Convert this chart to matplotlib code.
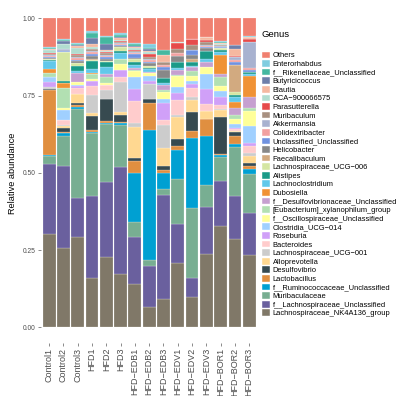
import numpy as np
import pandas as pd
import matplotlib
matplotlib.use('Agg')
import matplotlib.pyplot as plt
from matplotlib.patches import Patch

plt.rcParams['font.family'] = ['Liberation Sans', 'DejaVu Sans']

# --- data ---
samples = ['Control1', 'Control2', 'Control3', 'HFD1', 'HFD2', 'HFD3',
           'HFD\u2212EDB1', 'HFD\u2212EDB2', 'HFD\u2212EDB3',
           'HFD\u2212EDV1', 'HFD\u2212EDV2', 'HFD\u2212EDV3',
           'HFD\u2212BOR1', 'HFD\u2212BOR2', 'HFD\u2212BOR3']

# legend order (top of the stack first)
genera = ['Others', 'Enterorhabdus', 'f__Rikenellaceae_Unclassified', 'Butyricicoccus',
          'Blautia', 'GCA\u2212900066575', 'Parasutterella', 'Muribaculum', 'Akkermansia',
          'Colidextribacter', 'Unclassified_Unclassified', 'Helicobacter', 'Faecalibaculum',
          'Lachnospiraceae_UCG\u2212006', 'Alistipes', 'Lachnoclostridium', 'Dubosiella',
          'f__Desulfovibrionaceae_Unclassified', '[Eubacterium]_xylanophilum_group',
          'f__Oscillospiraceae_Unclassified', 'Clostridia_UCG\u2212014', 'Roseburia',
          'Bacteroides', 'Lachnospiraceae_UCG\u2212001', 'Alloprevotella', 'Desulfovibrio',
          'Lactobacillus', 'f__Ruminococcaceae_Unclassified', 'Muribaculaceae',
          'f__Lachnospiraceae_Unclassified', 'Lachnospiraceae_NK4A136_group']

colors = ['#F08070', '#80CDE0', '#45B8A0', '#6E7FAA', '#F5B8A0', '#B2DDD0', '#E64B4B',
          '#A89080', '#A8B2D0', '#F2A0A0', '#7092E0', '#888888', '#D2AA80', '#D5E6A2',
          '#1A9A88', '#62C8EA', '#F09235', '#C6A0D0', '#B2E0B2', '#FFFF99', '#A0D0FF',
          '#D0A0F8', '#FFCCCC', '#CCCCCC', '#FFD891', '#374A50', '#E08F40', '#00A0D2',
          '#78AE92', '#6A609E', '#807868']

others        = [0.094, 0.068, 0.080, 0.043, 0.058, 0.049, 0.081, 0.086, 0.102, 0.076, 0.065, 0.061, 0.076, 0.086, 0.057]
enterorhabdus = [0.003, 0.003, 0.004, 0.004, 0.004, 0.004, 0.004, 0.014, 0.000, 0.000, 0.000, 0.000, 0.003, 0.000, 0.003]
rikenellaceae = [0.003, 0.004, 0.004, 0.019, 0.022, 0.008, 0.004, 0.004, 0.016, 0.000, 0.000, 0.000, 0.002, 0.000, 0.000]
butyricicoccus = [0.003, 0.007, 0.004, 0.018, 0.019, 0.004, 0.004, 0.004, 0.000, 0.000, 0.000, 0.000, 0.002, 0.013, 0.000]
blautia       = [0.003, 0.000, 0.004, 0.011, 0.004, 0.005, 0.004, 0.004, 0.022, 0.000, 0.000, 0.010, 0.002, 0.022, 0.009]
gca           = [0.008, 0.018, 0.019, 0.004, 0.004, 0.004, 0.005, 0.008, 0.000, 0.005, 0.000, 0.000, 0.003, 0.000, 0.000]
parasutterella = [0.004, 0.000, 0.005, 0.003, 0.003, 0.003, 0.005, 0.011, 0.000, 0.019, 0.022, 0.005, 0.002, 0.005, 0.008]
muribaculum   = [0.003, 0.000, 0.005, 0.006, 0.005, 0.004, 0.003, 0.004, 0.010, 0.011, 0.016, 0.012, 0.002, 0.000, 0.000]
akkermansia   = [0.003, 0.005, 0.006, 0.004, 0.004, 0.003, 0.004, 0.004, 0.000, 0.000, 0.000, 0.003, 0.002, 0.008, 0.086]
colidextribacter = [0.004, 0.000, 0.004, 0.006, 0.005, 0.003, 0.004, 0.006, 0.008, 0.011, 0.000, 0.003, 0.002, 0.008, 0.005]
unclassified  = [0.003, 0.004, 0.005, 0.006, 0.005, 0.004, 0.010, 0.006, 0.009, 0.000, 0.016, 0.004, 0.002, 0.011, 0.008]
helicobacter  = [0.003, 0.000, 0.005, 0.008, 0.006, 0.004, 0.004, 0.010, 0.027, 0.018, 0.011, 0.010, 0.002, 0.000, 0.000]
faecalibaculum = [0.000, 0.000, 0.000, 0.004, 0.000, 0.000, 0.000, 0.000, 0.000, 0.000, 0.011, 0.000, 0.000, 0.086, 0.000]
lachno_ucg006 = [0.004, 0.094, 0.011, 0.004, 0.004, 0.012, 0.010, 0.004, 0.000, 0.000, 0.000, 0.000, 0.005, 0.009, 0.000]
alistipes     = [0.004, 0.008, 0.016, 0.027, 0.016, 0.005, 0.011, 0.005, 0.014, 0.022, 0.011, 0.024, 0.008, 0.008, 0.004]
lachnoclostridium = [0.025, 0.000, 0.005, 0.013, 0.024, 0.022, 0.010, 0.008, 0.008, 0.005, 0.005, 0.011, 0.009, 0.016, 0.008]
dubosiella    = [0.013, 0.016, 0.000, 0.003, 0.000, 0.000, 0.000, 0.000, 0.000, 0.000, 0.000, 0.000, 0.063, 0.019, 0.068]
desulfovibrionaceae = [0.000, 0.000, 0.032, 0.000, 0.010, 0.000, 0.005, 0.005, 0.016, 0.016, 0.011, 0.016, 0.011, 0.024, 0.037]
eubacterium   = [0.013, 0.065, 0.000, 0.016, 0.019, 0.016, 0.005, 0.000, 0.005, 0.005, 0.016, 0.000, 0.029, 0.011, 0.009]
oscillospiraceae = [0.000, 0.006, 0.009, 0.005, 0.008, 0.018, 0.018, 0.011, 0.025, 0.035, 0.016, 0.022, 0.018, 0.016, 0.049]
clostridia    = [0.017, 0.032, 0.004, 0.000, 0.000, 0.000, 0.038, 0.015, 0.013, 0.019, 0.009, 0.049, 0.019, 0.014, 0.054]
roseburia     = [0.016, 0.000, 0.004, 0.019, 0.000, 0.025, 0.041, 0.012, 0.054, 0.021, 0.013, 0.049, 0.027, 0.004, 0.011]
bacteroides   = [0.000, 0.016, 0.022, 0.029, 0.016, 0.016, 0.070, 0.000, 0.016, 0.049, 0.030, 0.025, 0.011, 0.004, 0.022]
lachno_ucg001 = [0.008, 0.005, 0.000, 0.059, 0.027, 0.095, 0.013, 0.049, 0.075, 0.008, 0.011, 0.000, 0.005, 0.000, 0.011]
alloprevotella = [0.000, 0.006, 0.029, 0.009, 0.000, 0.011, 0.102, 0.000, 0.059, 0.071, 0.038, 0.024, 0.022, 0.005, 0.022]
desulfovibrio = [0.002, 0.012, 0.006, 0.047, 0.075, 0.022, 0.009, 0.014, 0.011, 0.022, 0.061, 0.000, 0.123, 0.011, 0.011]
lactobacillus = [0.216, 0.004, 0.005, 0.005, 0.006, 0.003, 0.040, 0.089, 0.009, 0.013, 0.022, 0.056, 0.005, 0.027, 0.010]
ruminococcaceae = [0.005, 0.009, 0.007, 0.005, 0.004, 0.008, 0.160, 0.435, 0.053, 0.094, 0.223, 0.160, 0.007, 0.011, 0.015]
muribaculaceae = [0.025, 0.097, 0.293, 0.206, 0.188, 0.138, 0.048, 0.020, 0.019, 0.147, 0.224, 0.073, 0.080, 0.159, 0.126]
lachno_unclass = [0.232, 0.266, 0.126, 0.268, 0.246, 0.347, 0.156, 0.138, 0.337, 0.126, 0.062, 0.152, 0.148, 0.137, 0.137]
nk4a136       = [0.309, 0.259, 0.295, 0.162, 0.231, 0.175, 0.140, 0.067, 0.091, 0.207, 0.097, 0.241, 0.337, 0.288, 0.237]

table = pd.DataFrame(
    [others, enterorhabdus, rikenellaceae, butyricicoccus, blautia, gca, parasutterella,
     muribaculum, akkermansia, colidextribacter, unclassified, helicobacter, faecalibaculum,
     lachno_ucg006, alistipes, lachnoclostridium, dubosiella, desulfovibrionaceae, eubacterium,
     oscillospiraceae, clostridia, roseburia, bacteroides, lachno_ucg001, alloprevotella,
     desulfovibrio, lactobacillus, ruminococcaceae, muribaculaceae, lachno_unclass, nk4a136],
    index=genera, columns=samples)
# position = "fill": every sample stacks to 1
table = table / table.sum(axis=0)

# --- figure ---
fig = plt.figure(figsize=(3.96, 3.96), dpi=100)
ax = fig.add_axes([0.1025, 0.1343, 0.5485, 0.8585])

x = np.arange(1, len(samples) + 1)
bottom = np.zeros(len(samples))
for g, c in zip(genera[::-1], colors[::-1]):
    vals = table.loc[g].values
    ax.bar(x, vals, width=0.9, bottom=bottom, color=c, edgecolor='white', linewidth=0.15)
    bottom += vals

ax.set_xlim(0.4, len(samples) + 0.6)
ax.set_ylim(-0.05, 1.05)
ax.set_yticks([0, 0.25, 0.5, 0.75, 1.0])
ax.set_yticklabels(['0.00', '0.25', '0.50', '0.75', '1.00'])
ax.set_xticks(x)
ax.set_xticklabels(samples, rotation=90)
for s in ax.spines.values():
    s.set_visible(False)
ax.tick_params(axis='both', length=2, width=0.4, color='#333333', pad=1.5)
ax.tick_params(axis='y', labelsize=4.8, labelcolor='#4D4D4D')
ax.tick_params(axis='x', labelsize=6.5, labelcolor='#4D4D4D')
ax.set_ylabel('Relative abundance', fontsize=6.6, labelpad=4)

handles = [Patch(facecolor=c, edgecolor='white', linewidth=0.3) for c in colors]
leg = fig.legend(handles, genera, title='Genus', loc='upper left',
                 bbox_to_anchor=(262 / 396, 1 - 30 / 396), frameon=False,
                 fontsize=5.4, title_fontsize=6.8, handlelength=1.0, handleheight=1.0,
                 handletextpad=0.4, labelspacing=0.09, borderaxespad=0, borderpad=0,
                 alignment='left')
leg._legend_box.sep = 9

fig.savefig('out.png', dpi=100, facecolor='white')
